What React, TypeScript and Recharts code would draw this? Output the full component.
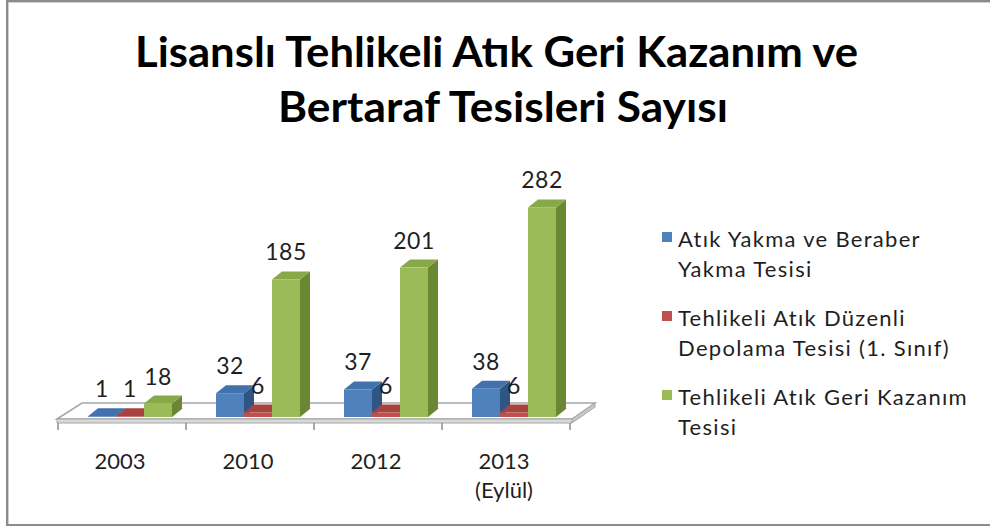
import React from 'react';
import { BarChart, Bar, XAxis, YAxis, ReferenceArea, Legend, LabelList } from 'recharts';

const categories = ['2003', '2010', '2012', '2013\n(Eylül)'];
const yakmaValues = [1, 32, 37, 38];
const depolamaValues = [1, 6, 6, 6];
const geriKazanimValues = [18, 185, 201, 282];
const seriesNames = [
  'Atık Yakma ve Beraber\nYakma Tesisi',
  'Tehlikeli Atık Düzenli\nDepolama Tesisi (1. Sınıf)',
  'Tehlikeli Atık Geri Kazanım\nTesisi',
];
const titleLines = ['Lisanslı Tehlikeli Atık Geri Kazanım ve', 'Bertaraf Tesisleri Sayısı'];

const data = categories.map((c, i) => ({
  category: c,
  yakma: yakmaValues[i],
  depolama: depolamaValues[i],
  geri: geriKazanimValues[i],
}));

const BLUE = { front: '#4F81BD', top: '#4272AE', side: '#2F5583' };
const RED = { front: '#C0504D', top: '#A8423F', side: '#86302E' };
const GREEN = { front: '#9BBB59', top: '#88A948', side: '#6A8834' };

const SHIFT = 8;
const DX = 10;
const DY = 8;
const FONT = 'Lato, "Open Sans", sans-serif';
const TEXT = '#1F1F1F';

const make3D = (c: any) => (props: any) => {
  const { x, y, width, height } = props;
  if (x == null || width == null) return <g />;
  const fx = x + SHIFT;
  const bottom = y + height;
  return (
    <g>
      <polygon
        points={`${fx + width},${y} ${fx + width + DX},${y - DY} ${fx + width + DX},${bottom - DY} ${fx + width},${bottom}`}
        fill={c.side}
      />
      <polygon
        points={`${fx},${y} ${fx + DX},${y - DY} ${fx + width + DX},${y - DY} ${fx + width},${y}`}
        fill={c.top}
      />
      <rect x={fx} y={y} width={width} height={Math.max(height, 0)} fill={c.front} />
    </g>
  );
};

const labelContent = (props: any) => {
  const vb = props.viewBox || {};
  const x = props.x != null ? props.x : vb.x;
  const y = props.y != null ? props.y : vb.y;
  const width = props.width != null ? props.width : vb.width;
  return (
    <text
      x={x + SHIFT + width / 2}
      y={y - 19}
      textAnchor="middle"
      fontSize={23}
      letterSpacing={0.5}
      fill={TEXT}
      fontFamily={FONT}
    >
      {props.value}
    </text>
  );
};

const CatTick = (props: any) => {
  const { x, y, payload } = props;
  const lines = String(payload.value).split('\n');
  return (
    <g>
      {lines.map((l, i) => (
        <text
          key={i}
          x={x - 2}
          y={y + 52 + i * 29}
          textAnchor="middle"
          fontSize={22}
          fill={TEXT}
          fontFamily={FONT}
        >
          {l}
        </text>
      ))}
    </g>
  );
};

const Floor = (props: any) => {
  const { x, y, width, height } = props;
  const base = y + height;
  const x0 = x;
  const x1 = x + width;
  const n = categories.length;
  const top = `${x0 - 1},${base + 2} ${x0 + 24},${base - 14} ${x1 + 25},${base - 14} ${x1 + 2},${base + 2}`;
  const front = `${x0 - 1},${base + 2} ${x1 + 2},${base + 2} ${x1 + 2},${base + 6} ${x0 - 1},${base + 6}`;
  const side = `${x1 + 2},${base + 2} ${x1 + 25},${base - 14} ${x1 + 25},${base - 10} ${x1 + 2},${base + 6}`;
  const ticks = [];
  for (let i = 0; i <= n; i++) {
    const tx = x0 + (i * width) / n;
    ticks.push(<line key={i} x1={tx} y1={base + 6} x2={tx} y2={base + 13} stroke="#8C8C8C" strokeWidth={1.5} />);
  }
  return (
    <g>
      <polygon points={top} fill="#FFFFFF" stroke="#A6A6A6" strokeWidth={1.5} />
      <polygon points={front} fill="#D9D9D9" stroke="#A6A6A6" strokeWidth={1} />
      <polygon points={side} fill="#C8C8C8" stroke="#A6A6A6" strokeWidth={1} />
      {ticks}
    </g>
  );
};

const renderLegend = (props: any) => {
  const payload = props.payload || [];
  return (
    <div style={{ fontFamily: FONT, fontSize: 22, letterSpacing: 1.3, color: TEXT }}>
      {payload.map((p: any, i: number) => (
        <div key={i} style={{ position: 'relative', height: 60, marginBottom: 19 }}>
          <div
            style={{
              position: 'absolute',
              left: 0,
              top: 8,
              width: 10,
              height: 10,
              background: p.color,
            }}
          />
          <div
            style={{
              position: 'absolute',
              left: 16,
              top: 0,
              whiteSpace: 'pre',
              lineHeight: '30px',
            }}
          >
            {p.value}
          </div>
        </div>
      ))}
    </div>
  );
};

export default function App() {
  return (
    <div
      style={{
        position: 'absolute',
        left: 0,
        top: 0,
        width: 990,
        height: 529,
        overflow: 'hidden',
        background: '#fff',
      }}
    >
      <div
        style={{
          position: 'absolute',
          left: 6,
          top: 0,
          width: 1000,
          height: 522,
          border: '2px solid #8C8C8C',
          boxShadow: 'inset 1px 1px 0 #D0D0D0',
        }}
      />
      <svg style={{ position: 'absolute', left: 0, top: 0 }} width={990} height={140}>
        <text
          x={496.5}
          y={67}
          textAnchor="middle"
          fontSize={42}
          fontWeight="bold"
          fontFamily={FONT}
          fill="#000"
          textLength={723}
          lengthAdjust="spacingAndGlyphs"
        >
          {titleLines[0]}
        </text>
        <text
          x={503}
          y={122}
          textAnchor="middle"
          fontSize={42}
          fontWeight="bold"
          fontFamily={FONT}
          fill="#000"
          textLength={450}
          lengthAdjust="spacingAndGlyphs"
        >
          {titleLines[1]}
        </text>
      </svg>
      <div style={{ position: 'absolute', left: 0, top: 0 }}>
        <BarChart
          width={990}
          height={529}
          data={data}
          margin={{ top: 194, right: 420, bottom: 52, left: 58 }}
          barGap={0}
          barSize={28}
        >
          <XAxis
            dataKey="category"
            height={60}
            axisLine={false}
            tickLine={false}
            tickSize={0}
            tickMargin={0}
            interval={0}
            tick={<CatTick />}
          />
          <YAxis hide domain={[0, 300]} />
          <ReferenceArea y1={0} y2={5} shape={<Floor />} ifOverflow="visible" />
          <Legend
            layout="vertical"
            align="center"
            verticalAlign="middle"
            wrapperStyle={{ left: 662, top: 224, width: 328, height: 240 }}
            content={renderLegend}
          />
          <Bar dataKey="yakma" name={seriesNames[0]} fill={BLUE.front} shape={make3D(BLUE)} isAnimationActive={false}>
            <LabelList dataKey="yakma" content={labelContent} />
          </Bar>
          <Bar dataKey="depolama" name={seriesNames[1]} fill={RED.front} shape={make3D(RED)} isAnimationActive={false}>
            <LabelList dataKey="depolama" content={labelContent} />
          </Bar>
          <Bar dataKey="geri" name={seriesNames[2]} fill={GREEN.front} shape={make3D(GREEN)} isAnimationActive={false}>
            <LabelList dataKey="geri" content={labelContent} />
          </Bar>
        </BarChart>
      </div>
    </div>
  );
}
